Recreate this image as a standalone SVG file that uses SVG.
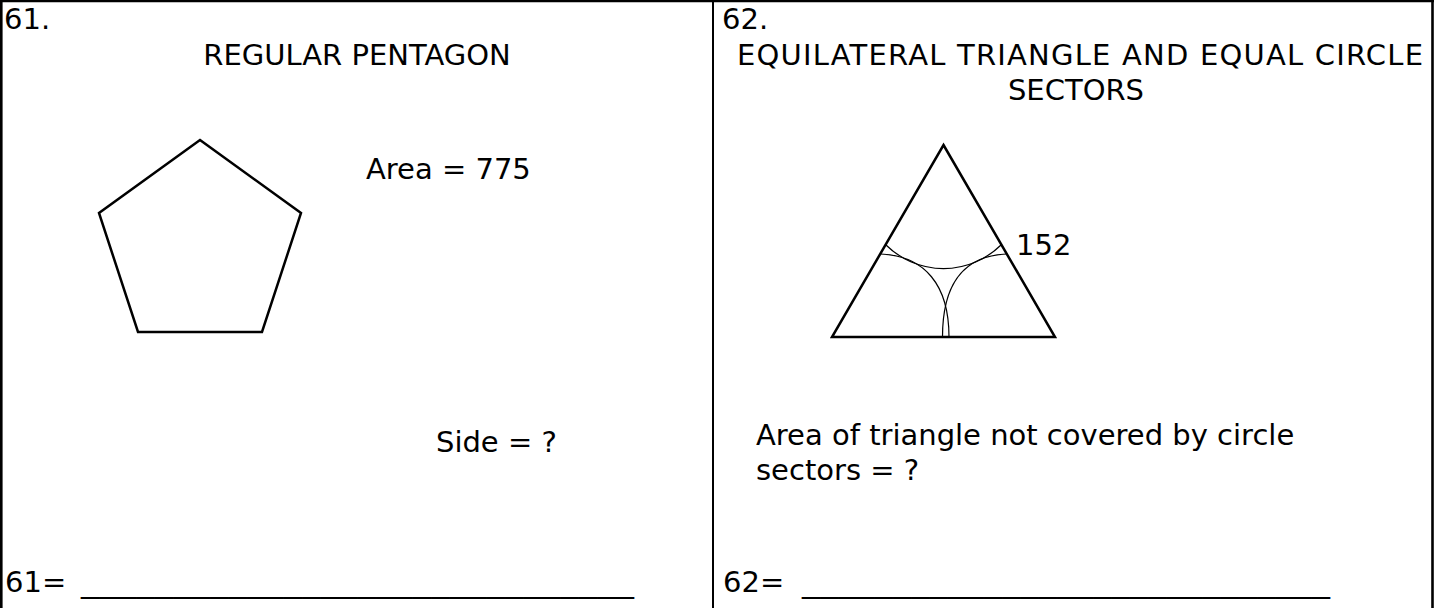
<svg xmlns="http://www.w3.org/2000/svg" width="1440" height="608" viewBox="0 0 1440 608">
<style>
text{font-family:"DejaVu Sans","Liberation Sans",sans-serif;font-size:29px;fill:#000}
.mid{text-anchor:middle}
.frame{stroke:#000;fill:none}
.shape{stroke:#000;stroke-width:2.5;fill:none;stroke-linejoin:miter}
.arc{stroke:#000;stroke-width:1.2;fill:none}
</style>
<rect width="1440" height="608" fill="#fff"/>
<g id="frame">
<line class="frame" x1="0" y1="1" x2="1434" y2="1" stroke-width="2.5"/>
<line class="frame" x1="1.3" y1="0" x2="1.3" y2="608" stroke-width="2.6"/>
<line class="frame" x1="713" y1="0" x2="713" y2="608" stroke-width="2"/>
<line class="frame" x1="1432.5" y1="0" x2="1432.5" y2="608" stroke-width="2.6"/>
</g>
<g id="problem61">
<text x="4" y="29">61.</text>
<text class="mid" x="357" y="65">REGULAR PENTAGON</text>
<polygon id="pentagon" class="shape" points="200,140 301,213 262,332 138,332 99,213"/>
<text x="366" y="179">Area = 775</text>
<text x="436" y="452">Side = ?</text>
<text x="5" y="592">61= <tspan x="81" textLength="553" lengthAdjust="spacingAndGlyphs">______________________________</tspan></text>
</g>
<g id="problem62">
<text x="722" y="29">62.</text>
<text class="mid" x="1080" y="65" textLength="686" lengthAdjust="spacing">EQUILATERAL TRIANGLE AND EQUAL CIRCLE</text>
<text class="mid" x="1076" y="100">SECTORS</text>
<polygon id="triangle" class="shape" points="943.5,145 1055,337 832,337"/>
<g id="sectors">
<path class="arc" d="M886,245 A82,82 0 0 0 1001,245"/>
<path class="arc" d="M880.5,254 C925,256 949,285 949,337"/>
<path class="arc" d="M1006.5,254 C962,256 942.5,285 942.5,337"/>
</g>
<text x="1016" y="255">152</text>
<text x="756" y="445">Area of triangle not covered by circle</text>
<text x="756" y="480">sectors = ?</text>
<text x="723" y="592">62= <tspan x="802" textLength="528" lengthAdjust="spacingAndGlyphs">_____________________________</tspan></text>
</g>
</svg>
